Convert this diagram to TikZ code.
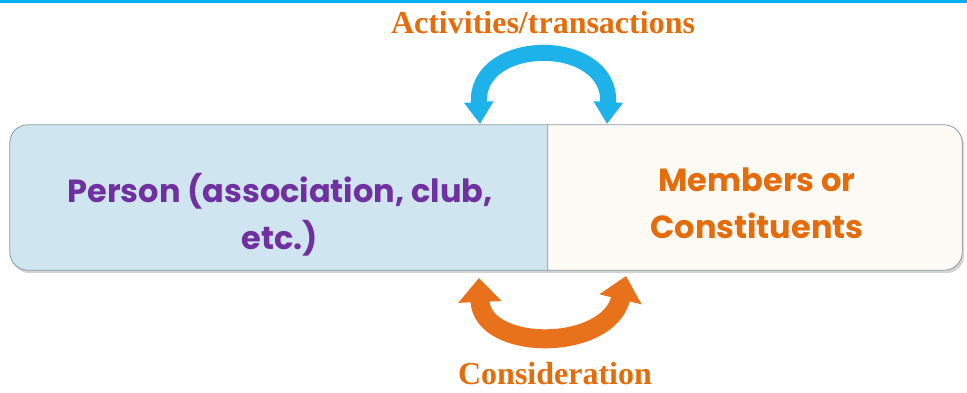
\documentclass[tikz,border=0pt]{standalone}
\usepackage{fontspec}
\newfontfamily\poppins{Poppins}
\newfontfamily\headfont{Liberation Serif}
\usetikzlibrary{arrows.meta,shadows,calc,backgrounds}
\definecolor{topline}{HTML}{00B0F0}
\definecolor{headorange}{HTML}{E46C0A}
\definecolor{personpurple}{HTML}{7030A0}
\definecolor{personfill}{HTML}{CFE6F1}
\definecolor{memberfill}{HTML}{FEFAF6}
\definecolor{boxedge}{HTML}{8C9AA3}
\definecolor{actblue}{HTML}{1DB2EA}
\definecolor{conorange}{HTML}{E8721C}

\begin{document}
\begin{tikzpicture}
     [x=1pt,y=1pt,line cap=butt,
      % Styles
        box/.style={rectangle,minimum height=145pt,inner sep=0pt},
        boxtext/.style={font=\poppins\bfseries\fontsize{32}{47}\selectfont,align=center},
        heading/.style={font=\headfont\bfseries\fontsize{32}{36}\selectfont,text=headorange,inner sep=0pt},
        boxshape/.style={draw=boxedge,line width=0.8pt,
          drop shadow={opacity=0.35,shadow xshift=2pt,shadow yshift=-3pt}},
        act arrow/.style={actblue,line width=16pt,
          {Triangle[width=28pt,length=22pt]}-{Triangle[width=28pt,length=22pt]}},
        con arrow/.style={conorange,line width=19pt,
          {Triangle[width=42pt,length=24pt]}-{Triangle[width=42pt,length=24pt]}}]
    \useasboundingbox (0,0) rectangle (967,392);
    \fill[topline] (0,389) rectangle (967,392);

    % the two boxes
    \node[box,minimum width=538pt] (person) at (279,194.5) {};
    \node[box,minimum width=414pt] (members) at (755,194.5) {};
    \node[boxtext,text=personpurple] (persontext) at ($(person.center)+(1,-17)$)
      {Person (association, club,\\etc.)};
    \node[boxtext,text=headorange] (membertext) at ($(members.center)+(2,-6)$)
      {Members or\\Constituents};
    \begin{scope}[on background layer]
      \path[boxshape,fill=personfill] (person.north east)
        -- ([xshift=18pt]person.north west) arc (90:180:18pt)
        -- ([yshift=18pt]person.south west) arc (180:270:18pt)
        -- (person.south east) -- cycle;
      \path[boxshape,fill=memberfill] (members.north west)
        -- ([xshift=-18pt]members.north east) arc (90:0:18pt)
        -- ([yshift=18pt]members.south east) arc (0:-90:18pt)
        -- (members.south west) -- cycle;
    \end{scope}

    % headings
    \node[heading] (activities) at (543,369) {Activities/transactions};
    \node[heading] (consideration) at (555,18) {Consideration};

    % curved arrows
    \coordinate (actL) at (480,268);
    \coordinate (actR) at (607,268);
    \coordinate (conL) at (479,114);
    \coordinate (conR) at (626,116);
    \draw[act arrow] (actL) .. controls (475,356) and (612,356) .. (actR);
    \draw[con arrow] (conL) .. controls (482,40) and (608,40) .. (conR);
  \end{tikzpicture}
\end{document}
